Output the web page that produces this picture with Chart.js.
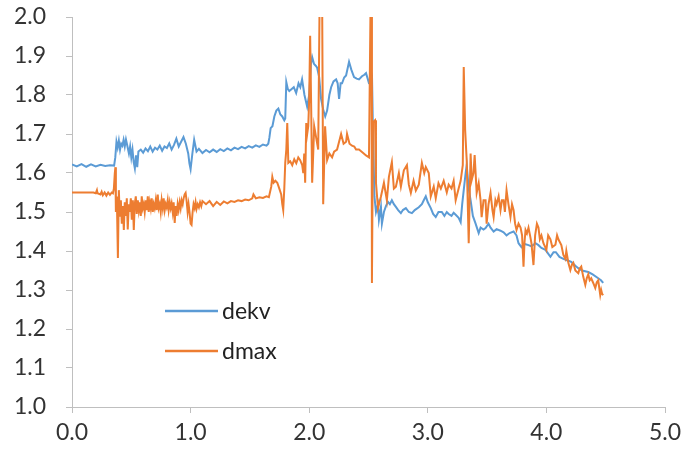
<!DOCTYPE html>
<html>
<head>
<meta charset="utf-8">
<script src="https://cdn.jsdelivr.net/npm/chart.js@4.4.1/dist/chart.umd.min.js"></script>
<style>
  html, body { margin: 0; padding: 0; background: #fff; }
  #chart { display: block; }
</style>
</head>
<body>
<canvas id="chart" width="683" height="454"></canvas>
<script>
const seriesNames = ["dekv", "dmax"];
const seriesColors = ["#5B9BD5", "#ED7D31"];
const xTicks = [0, 1, 2, 3, 4, 5];
const yTicks = [1.0, 1.1, 1.2, 1.3, 1.4, 1.5, 1.6, 1.7, 1.8, 1.9, 2.0];

// [x, y]
const dekvPoints = [
  [0.000,1.622],[0.040,1.617],[0.080,1.623],[0.120,1.616],[0.160,1.622],[0.200,1.617],[0.240,1.621],[0.280,1.618],[0.320,1.620],[0.355,1.619],
  [0.365,1.640],[0.375,1.680],[0.385,1.665],[0.395,1.683],[0.405,1.660],[0.415,1.675],[0.425,1.670],[0.435,1.685],[0.445,1.668],[0.455,1.686],
  [0.465,1.672],[0.480,1.650],[0.490,1.668],[0.500,1.640],[0.510,1.660],[0.520,1.628],[0.530,1.612],[0.540,1.645],[0.550,1.615],[0.560,1.655],
  [0.580,1.660],[0.600,1.652],[0.620,1.663],[0.640,1.656],[0.660,1.668],[0.680,1.655],[0.700,1.665],[0.720,1.660],[0.740,1.670],[0.760,1.657],
  [0.780,1.668],[0.800,1.664],[0.820,1.676],[0.840,1.660],[0.860,1.672],[0.880,1.688],[0.900,1.668],[0.920,1.680],[0.940,1.692],[0.960,1.675],
  [0.980,1.650],[0.990,1.625],[1.000,1.610],[1.015,1.650],[1.030,1.685],[1.050,1.655],[1.070,1.662],[1.100,1.651],[1.130,1.659],[1.160,1.653],
  [1.190,1.660],[1.220,1.654],[1.250,1.661],[1.280,1.656],[1.310,1.663],[1.340,1.658],[1.370,1.665],[1.400,1.661],[1.430,1.667],[1.460,1.663],
  [1.490,1.669],[1.520,1.665],[1.550,1.671],[1.580,1.667],[1.610,1.673],[1.640,1.670],[1.655,1.675],[1.664,1.690],[1.675,1.715],[1.690,1.720],
  [1.706,1.745],[1.723,1.760],[1.740,1.765],[1.757,1.750],[1.773,1.745],[1.790,1.735],[1.798,1.740],[1.807,1.833],[1.820,1.815],[1.832,1.810],
  [1.850,1.815],[1.870,1.820],[1.890,1.805],[1.910,1.830],[1.925,1.820],[1.940,1.840],[1.960,1.800],[1.983,1.770],[2.000,1.800],[2.015,1.880],
  [2.025,1.897],[2.040,1.880],[2.055,1.875],[2.067,1.870],[2.084,1.846],[2.100,1.790],[2.120,1.760],[2.135,1.745],[2.151,1.760],[2.170,1.800],
  [2.185,1.820],[2.205,1.835],[2.227,1.840],[2.240,1.830],[2.252,1.790],[2.265,1.830],[2.277,1.830],[2.295,1.845],[2.311,1.850],[2.336,1.885],
  [2.355,1.865],[2.378,1.846],[2.400,1.842],[2.420,1.840],[2.445,1.848],[2.465,1.852],[2.479,1.856],[2.495,1.840],[2.504,1.830],[2.520,1.828],
  [2.530,1.840],[2.538,1.700],[2.550,1.540],[2.563,1.500],[2.580,1.520],[2.588,1.480],[2.605,1.513],[2.613,1.470],[2.630,1.500],[2.647,1.515],
  [2.664,1.526],[2.680,1.520],[2.697,1.530],[2.714,1.520],[2.731,1.513],[2.750,1.505],[2.773,1.497],[2.790,1.505],[2.815,1.510],[2.840,1.500],
  [2.866,1.497],[2.890,1.505],[2.924,1.512],[2.950,1.520],[2.966,1.530],[2.983,1.540],[3.000,1.525],[3.025,1.510],[3.045,1.495],[3.067,1.487],
  [3.090,1.500],[3.118,1.500],[3.140,1.490],[3.160,1.500],[3.176,1.495],[3.200,1.490],[3.218,1.498],[3.235,1.493],[3.260,1.485],[3.277,1.474],
  [3.290,1.520],[3.303,1.556],[3.319,1.600],[3.328,1.620],[3.345,1.560],[3.361,1.530],[3.380,1.490],[3.403,1.470],[3.429,1.446],[3.445,1.460],
  [3.470,1.455],[3.487,1.459],[3.512,1.470],[3.529,1.460],[3.555,1.450],[3.580,1.456],[3.613,1.452],[3.639,1.448],[3.664,1.440],[3.690,1.446],
  [3.723,1.450],[3.748,1.440],[3.765,1.420],[3.790,1.410],[3.815,1.418],[3.849,1.415],[3.874,1.412],[3.908,1.420],[3.933,1.415],[3.958,1.408],
  [3.992,1.403],[4.034,1.385],[4.060,1.397],[4.080,1.397],[4.110,1.385],[4.143,1.380],[4.185,1.375],[4.210,1.372],[4.244,1.362],[4.269,1.356],
  [4.300,1.350],[4.353,1.346],[4.390,1.340],[4.437,1.330],[4.460,1.325],[4.479,1.318]
];

const dmaxPoints = [
  [0.000,1.550],[0.100,1.550],[0.180,1.550],[0.200,1.548],[0.210,1.556],[0.215,1.548],[0.240,1.545],[0.250,1.552],[0.260,1.543],[0.275,1.550],
  [0.290,1.542],[0.305,1.550],[0.320,1.544],[0.335,1.550],[0.345,1.548],[0.353,1.560],[0.361,1.600],[0.366,1.615],[0.370,1.500],[0.378,1.540],
  [0.387,1.382],[0.395,1.556],[0.403,1.488],[0.412,1.530],[0.420,1.470],[0.429,1.515],[0.437,1.454],[0.445,1.525],[0.454,1.490],[0.462,1.535],
  [0.470,1.455],[0.479,1.520],[0.487,1.500],[0.496,1.535],[0.504,1.480],[0.513,1.530],[0.521,1.454],[0.529,1.520],[0.538,1.540],[0.546,1.495],
  [0.555,1.530],[0.563,1.505],[0.571,1.525],[0.580,1.490],[0.588,1.540],[0.597,1.510],[0.605,1.520],[0.613,1.500],[0.622,1.530],[0.630,1.505],
  [0.639,1.540],[0.647,1.500],[0.656,1.525],[0.664,1.510],[0.672,1.535],[0.681,1.500],[0.689,1.520],[0.697,1.510],[0.706,1.530],[0.714,1.505],
  [0.723,1.545],[0.731,1.510],[0.740,1.520],[0.748,1.500],[0.756,1.530],[0.765,1.510],[0.773,1.535],[0.782,1.505],[0.790,1.520],[0.798,1.512],
  [0.807,1.530],[0.815,1.505],[0.824,1.525],[0.832,1.510],[0.840,1.522],[0.849,1.500],[0.857,1.525],[0.866,1.472],[0.874,1.515],[0.882,1.490],
  [0.891,1.520],[0.899,1.505],[0.908,1.525],[0.916,1.510],[0.924,1.530],[0.933,1.520],[0.941,1.535],[0.950,1.545],[0.958,1.549],[0.966,1.530],
  [0.975,1.500],[0.983,1.520],[0.991,1.500],[1.000,1.470],[1.008,1.467],[1.017,1.500],[1.025,1.520],[1.034,1.510],[1.042,1.525],[1.050,1.508],
  [1.060,1.520],[1.070,1.512],[1.080,1.525],[1.090,1.515],[1.100,1.528],[1.130,1.520],[1.160,1.528],[1.190,1.515],[1.220,1.526],[1.250,1.518],
  [1.280,1.527],[1.310,1.522],[1.340,1.528],[1.370,1.526],[1.400,1.530],[1.430,1.528],[1.460,1.532],[1.490,1.530],[1.520,1.535],[1.530,1.545],
  [1.550,1.535],[1.580,1.538],[1.610,1.536],[1.640,1.540],[1.660,1.538],[1.680,1.565],[1.689,1.590],[1.700,1.575],[1.715,1.580],[1.731,1.575],
  [1.748,1.560],[1.764,1.545],[1.773,1.520],[1.781,1.505],[1.790,1.560],[1.798,1.626],[1.807,1.660],[1.815,1.728],[1.824,1.626],[1.840,1.630],
  [1.857,1.620],[1.874,1.635],[1.891,1.625],[1.908,1.640],[1.924,1.633],[1.941,1.620],[1.950,1.600],[1.958,1.650],[1.966,1.575],[1.975,1.728],
  [1.983,1.700],[1.992,1.720],[2.000,1.790],[2.008,1.952],[2.017,1.760],[2.025,1.575],[2.034,1.650],[2.042,1.720],[2.059,1.690],[2.076,1.660],
  [2.088,2.050],[2.101,2.050],[2.109,2.050],[2.118,1.520],[2.134,1.720],[2.151,1.633],[2.170,1.650],[2.193,1.640],[2.210,1.655],[2.235,1.660],
  [2.252,1.680],[2.269,1.700],[2.290,1.675],[2.311,1.680],[2.319,1.700],[2.340,1.675],[2.361,1.670],[2.380,1.668],[2.395,1.660],[2.420,1.660],
  [2.440,1.655],[2.460,1.650],[2.479,1.645],[2.495,1.642],[2.504,1.640],[2.518,2.050],[2.525,2.050],[2.529,1.318],[2.538,1.730],[2.555,1.735],
  [2.563,1.575],[2.580,1.510],[2.605,1.540],[2.630,1.575],[2.655,1.530],[2.672,1.590],[2.697,1.628],[2.714,1.560],[2.731,1.565],[2.756,1.600],
  [2.773,1.565],[2.798,1.607],[2.824,1.620],[2.840,1.570],[2.857,1.549],[2.880,1.580],[2.899,1.555],[2.924,1.570],[2.950,1.626],[2.970,1.600],
  [2.983,1.615],[3.008,1.600],[3.025,1.540],[3.050,1.565],[3.067,1.535],[3.090,1.574],[3.110,1.560],[3.134,1.580],[3.160,1.550],[3.176,1.570],
  [3.200,1.560],[3.218,1.580],[3.235,1.530],[3.260,1.560],[3.277,1.580],[3.295,1.620],[3.303,1.872],[3.315,1.710],[3.328,1.633],[3.345,1.420],
  [3.361,1.650],[3.370,1.582],[3.385,1.600],[3.395,1.646],[3.412,1.549],[3.429,1.574],[3.445,1.530],[3.454,1.487],[3.470,1.530],[3.487,1.530],
  [3.496,1.470],[3.512,1.520],[3.529,1.549],[3.545,1.505],[3.555,1.487],[3.570,1.530],[3.580,1.520],[3.597,1.540],[3.613,1.505],[3.625,1.530],
  [3.639,1.530],[3.650,1.500],[3.664,1.556],[3.680,1.520],[3.697,1.487],[3.710,1.520],[3.723,1.505],[3.736,1.470],[3.748,1.454],[3.765,1.470],
  [3.782,1.460],[3.795,1.440],[3.807,1.360],[3.815,1.420],[3.824,1.454],[3.836,1.445],[3.849,1.460],[3.862,1.440],[3.874,1.420],[3.891,1.364],
  [3.905,1.440],[3.920,1.470],[3.933,1.460],[3.945,1.430],[3.958,1.440],[3.975,1.420],[3.990,1.410],[4.000,1.403],[4.015,1.440],[4.034,1.430],
  [4.050,1.410],[4.076,1.416],[4.090,1.440],[4.101,1.430],[4.126,1.415],[4.143,1.390],[4.160,1.380],[4.168,1.400],[4.185,1.370],[4.202,1.351],
  [4.215,1.365],[4.227,1.370],[4.244,1.350],[4.269,1.343],[4.281,1.355],[4.294,1.360],[4.310,1.335],[4.328,1.313],[4.340,1.330],[4.353,1.340],
  [4.365,1.325],[4.378,1.330],[4.395,1.318],[4.412,1.305],[4.425,1.320],[4.437,1.325],[4.454,1.287],[4.462,1.300],[4.470,1.290],[4.479,1.287]
];

const FONT = "Lato, 'Open Sans', sans-serif";
const TEXT = "#333333";
const AXIS = "#bfbfbf";

function toXY(points) {
  return points.map(p => ({ x: p[0], y: p[1] }));
}

// legend sits inside the plot area, drawn by hand
const insideLegend = {
  id: "insideLegend",
  afterDraw(chart) {
    const ctx = chart.ctx;
    const area = chart.chartArea;
    ctx.save();
    ctx.font = "23px " + FONT;
    ctx.textBaseline = "middle";
    chart.data.datasets.forEach((ds, i) => {
      const y = area.top + 294 + i * 40;
      const x = area.left + 93;
      ctx.strokeStyle = ds.borderColor;
      ctx.lineWidth = 2.5;
      ctx.beginPath();
      ctx.moveTo(x, y);
      ctx.lineTo(x + 53, y);
      ctx.stroke();
      ctx.fillStyle = "#222222";
      ctx.fillText(ds.label, x + 57, y + 1);
    });
    ctx.restore();
  }
};

new Chart(document.getElementById("chart"), {
  type: "line",
  data: {
    datasets: [
      {
        label: seriesNames[0],
        data: toXY(dekvPoints),
        borderColor: seriesColors[0],
        borderWidth: 2,
        pointRadius: 0,
        tension: 0,
        order: 2
      },
      {
        label: seriesNames[1],
        data: toXY(dmaxPoints),
        borderColor: seriesColors[1],
        borderWidth: 2,
        pointRadius: 0,
        tension: 0,
        order: 1
      }
    ]
  },
  options: {
    responsive: false,
    animation: false,
    devicePixelRatio: 1,
    layout: { padding: { top: 17, right: 18, left: 0, bottom: 0 } },
    plugins: {
      legend: { display: false },
      tooltip: { enabled: false }
    },
    scales: {
      x: {
        type: "linear",
        min: xTicks[0],
        max: xTicks[xTicks.length - 1],
        afterBuildTicks: s => { s.ticks = xTicks.map(v => ({ value: v })); },
        afterFit: s => { s.height = 47; s.paddingLeft = 0; s.paddingRight = 0; },
        ticks: {
          callback: v => Number(v).toFixed(1),
          font: { family: FONT, size: 23 },
          color: TEXT,
          padding: 6,
          maxRotation: 0
        },
        grid: { drawOnChartArea: false, drawTicks: true, tickLength: 6, color: AXIS },
        border: { color: AXIS, width: 1 }
      },
      y: {
        min: yTicks[0],
        max: yTicks[yTicks.length - 1],
        afterBuildTicks: s => { s.ticks = yTicks.map(v => ({ value: v })); },
        afterFit: s => { s.width = 72; s.paddingTop = 0; s.paddingBottom = 0; },
        ticks: {
          callback: v => Number(v).toFixed(1),
          font: { family: FONT, size: 23 },
          color: TEXT,
          padding: 20
        },
        grid: { drawOnChartArea: false, drawTicks: true, tickLength: 6, color: AXIS },
        border: { color: AXIS, width: 1 }
      }
    }
  },
  plugins: [insideLegend]
});
</script>
</body>
</html>
